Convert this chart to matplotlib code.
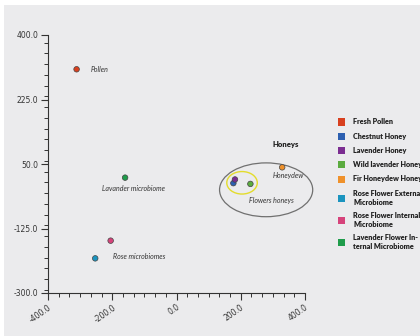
import matplotlib
matplotlib.use("Agg")
import matplotlib.pyplot as plt
from matplotlib.patches import Ellipse, Rectangle
from matplotlib.ticker import MultipleLocator, FixedLocator, FormatStrFormatter

# PCA scores of each sample
samples = ["Fresh Pollen", "Chestnut Honey", "Lavender Honey", "Wild lavender Honey",
           "Fir Honeydew Honey", "Rose Flower External Microbiome",
           "Rose Flower Internal Microbiome", "Lavender Flower Internal Microbiome"]
pc1 = [-311, 177, 182, 230, 329, -253, -205, -160]
pc2 = [307, -2, 8, -4, 41, -206, -158, 13]
colors = ["#d8401f", "#2c5fb0", "#7b2d91", "#5bab3f", "#ef912b", "#1b94bf", "#d6437b", "#1f9c4b"]

legend_labels = ["Fresh Pollen", "Chestnut Honey", "Lavender Honey", "Wild lavender Honey",
                 "Fir Honeydew Honey", "Rose Flower External\nMicrobiome",
                 "Rose Flower Internal\nMicrobiome", "Lavender Flower In-\nternal Microbiome"]

xticks = [-400, -200, 0, 200, 400]
yticks = [-300, -125, 50, 225, 400]

W, H = 420, 336
fig = plt.figure(figsize=(W / 100, H / 100), dpi=100, facecolor="white")
fig.patches.append(Rectangle((4 / W, 0), 1, 1 - 5 / H, transform=fig.transFigure,
                             facecolor="#ebebed", edgecolor="none", zorder=-10))

ax = fig.add_axes([48 / W, 1 - 293 / H, (305 - 48) / W, (293 - 35) / H])
ax.set_facecolor("none")
ax.set_xlim(-400, 400)
ax.set_ylim(-300, 400)
for s in ["top", "right"]:
    ax.spines[s].set_visible(False)
for s in ["left", "bottom"]:
    ax.spines[s].set_color("#333333")
    ax.spines[s].set_linewidth(0.8)

ax.xaxis.set_major_locator(FixedLocator(xticks))
ax.yaxis.set_major_locator(FixedLocator(yticks))
ax.xaxis.set_minor_locator(MultipleLocator(200 / 6))
ax.yaxis.set_minor_locator(MultipleLocator(175 / 6))
ax.xaxis.set_major_formatter(FormatStrFormatter("%.1f"))
ax.yaxis.set_major_formatter(FormatStrFormatter("%.1f"))
ax.tick_params(which="major", length=5, width=0.8, color="#333333",
               labelsize=5.5, labelcolor="#333333", pad=2)
ax.tick_params(which="minor", length=3, width=0.7, color="#333333")
for lab in ax.get_xticklabels():
    lab.set_rotation(35)
    lab.set_ha("right")
    lab.set_rotation_mode("anchor")

ax.scatter(pc1, pc2, s=16, c=colors, edgecolors="#444444", linewidths=0.5, zorder=3, clip_on=False)

# grouping ellipses
ax.add_patch(Ellipse((279, -20), 290, 146, fill=False, edgecolor="#707070", lw=0.9, clip_on=False))
ax.add_patch(Ellipse((204, -1), 95, 61, fill=False, edgecolor="#e3dc2c", lw=1.0, clip_on=False))

tstyle = dict(fontsize=5, family="Lato", color="#333333", style="italic", va="center")
ax.text(-267, 307, "Pollen", ha="left", **tstyle)
ax.text(-134, -17, "Lavander microbiome", ha="center", **tstyle)
ax.text(-198, -201, "Rose microbiomes", ha="left", **tstyle)
ax.text(349, 18, "Honeydew", ha="center", clip_on=False, **tstyle)
ax.text(295, -48, "Flowers honeys", ha="center", **tstyle)
ax.text(341, 104, "Honeys", ha="center", va="center", fontsize=5.5, family="Lato",
        fontweight="heavy", color="#222222", clip_on=False)

# legend drawn as figure text
legend_y = [122, 136, 150, 164.5, 179, 198, 220, 242]
for lbl, col, yy in zip(legend_labels, colors, legend_y):
    fig.patches.append(Rectangle((338 / W, 1 - (yy + 3.5) / H), 7 / W, 7 / H,
                                 transform=fig.transFigure, facecolor=col,
                                 edgecolor="none"))
    fig.text(353 / W, 1 - yy / H, lbl, fontsize=5.2, family="Lato", fontweight="heavy",
             color="#222222", va="center", ha="left", linespacing=1.3)

fig.savefig("out.png", dpi=100, facecolor=fig.get_facecolor())
